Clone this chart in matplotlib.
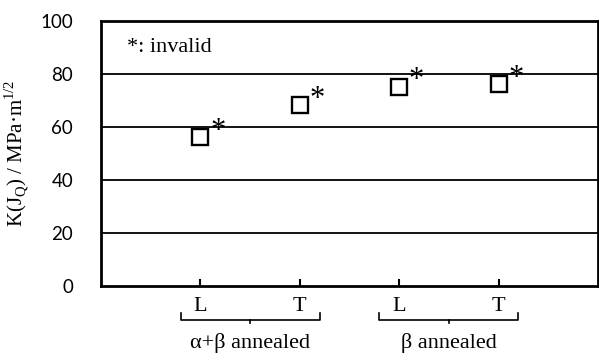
import matplotlib
matplotlib.use("Agg")
import matplotlib.pyplot as plt
import matplotlib.transforms as mtransforms

# data
orientations = ["L", "T", "L", "T"]
groups = ["\u03b1+\u03b2 annealed", "\u03b2 annealed"]
kjq = [56, 68, 75, 76]
xpos = [1, 2, 3, 4]
group_centers = [1.5, 3.5]

serif = "Liberation Serif"

fig = plt.figure(figsize=(5.99, 3.56), dpi=100)
ax = fig.add_axes([0.1686, 0.1975, 0.8297, 0.7444])

# gridlines
for yv in [20, 40, 60, 80]:
    ax.axhline(yv, color="black", lw=1.3, zorder=1)

ax.plot(xpos, kjq, ls="none", marker="s", ms=11, mfc="white", mec="black",
        mew=1.7, zorder=3)
for x, y in zip(xpos, kjq):
    ax.annotate("*", (x, y), xytext=(7, -6), textcoords="offset points",
                fontsize=22, family=serif, ha="left", va="bottom")

ax.text(0.26, 90, "*: invalid", fontsize=16, family=serif, va="center")

ax.set_xlim(0, 5)
ax.set_ylim(0, 100)
ax.set_yticks([0, 20, 40, 60, 80, 100])
ax.tick_params(axis="y", length=0, pad=20, labelsize=13.5)
for lab in ax.get_yticklabels():
    lab.set_family("Lato")
ax.set_xticks(xpos)
ax.set_xticklabels(orientations, family=serif, fontsize=16)
ax.tick_params(axis="x", direction="in", length=5, width=1.5, pad=8)

for sp in ax.spines.values():
    sp.set_linewidth(2)

ax.set_ylabel("K(J$_\\mathregular{Q}$) / MPa\u00b7m$^\\mathregular{1/2}$",
              family=serif, fontsize=15, labelpad=6)

# brackets under the group labels
trans = mtransforms.blended_transform_factory(ax.transData, ax.transAxes)
for c, g in zip(group_centers, groups):
    x0, x1 = c - 0.7, c + 0.7
    ax.plot([x0, x0, x1, x1], [-0.103, -0.129, -0.129, -0.103],
            color="black", lw=1.2, transform=trans, clip_on=False)
    ax.plot([c, c], [-0.129, -0.142], color="black", lw=1.2,
            transform=trans, clip_on=False)
    ax.text(c, -0.215, g, family=serif, fontsize=16, ha="center",
            va="center", transform=trans)

fig.savefig("out.png", dpi=100)
